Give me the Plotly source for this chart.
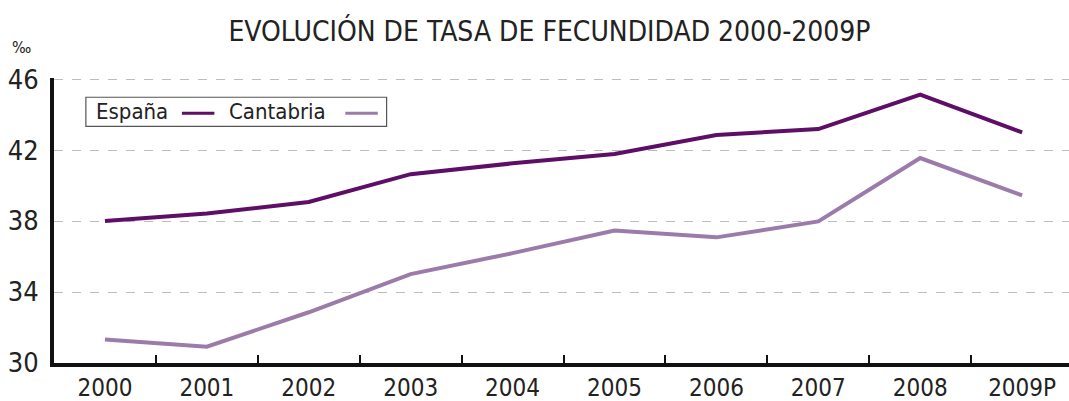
import plotly.graph_objects as go

years = ["2000", "2001", "2002", "2003", "2004", "2005", "2006", "2007", "2008", "2009P"]
espana = [38.0, 38.42, 39.07, 40.64, 41.25, 41.78, 42.85, 43.18, 45.12, 42.99]
cantabria = [31.33, 30.92, 32.86, 35.01, 36.19, 37.46, 37.08, 37.98, 41.55, 39.44]
y_ticks = [30, 34, 38, 42, 46]

COL_ES = "#5E0E66"
COL_CA = "#9B7BAA"
FONT = "DejaVu Sans Condensed, DejaVu Sans, sans-serif"
TXT = "#222222"

fig = go.Figure()
fig.add_trace(go.Scatter(x=years, y=espana, mode="lines", name="España",
                         line=dict(color=COL_ES, width=4)))
fig.add_trace(go.Scatter(x=years, y=cantabria, mode="lines", name="Cantabria",
                         line=dict(color=COL_CA, width=4)))

fig.update_layout(
    width=1069, height=401,
    margin=dict(l=54, r=0, t=78, b=38, autoexpand=False),
    paper_bgcolor="white", plot_bgcolor="white",
    showlegend=False,
    font=dict(family=FONT, color=TXT),
    title=dict(text="EVOLUCIÓN DE TASA DE FECUNDIDAD 2000-2009P",
               x=0.514, xanchor="center", xref="container",
               y=0.922, yanchor="middle", yref="container",
               font=dict(size=28, family=FONT, color=TXT)),
    xaxis=dict(type="category", range=[-0.5, 9.46], automargin=False,
               showline=True, linecolor="#111111", linewidth=4,
               ticks="inside", tickson="boundaries", ticklen=8, tickwidth=2, tickcolor="#111111",
               showgrid=False, tickfont=dict(size=24, family=FONT, color=TXT)),
    yaxis=dict(range=[30, 46.06], tickvals=y_ticks, automargin=False,
               showline=True, linecolor="#111111", linewidth=4,
               showgrid=True, gridcolor="#BDBDBD", griddash="dash", gridwidth=1,
               zeroline=False, ticks="", ticklen=0, ticklabelstandoff=6,
               tickfont=dict(size=27, family=FONT, color=TXT)),
)

# per-mille unit label
fig.add_annotation(text="‰", xref="paper", yref="paper", x=-0.032, y=1.065,
                   xanchor="center", yanchor="bottom", showarrow=False,
                   font=dict(size=16, family=FONT, color=TXT))

# custom legend box (text then line swatch)
fig.add_shape(type="rect", xref="paper", yref="paper",
              x0=0.0314, x1=0.3277, y0=0.830, y1=0.9325,
              line=dict(color="#555555", width=1.2), fillcolor="white", layer="above")
fig.add_annotation(text="España", xref="paper", yref="paper", x=0.039, y=0.881,
                   xanchor="left", yanchor="middle", showarrow=False,
                   font=dict(size=22, family=FONT, color=TXT))
fig.add_shape(type="line", xref="paper", yref="paper", x0=0.126, x1=0.158,
              y0=0.876, y1=0.876, line=dict(color=COL_ES, width=3), layer="above")
fig.add_annotation(text="Cantabria", xref="paper", yref="paper", x=0.170, y=0.881,
                   xanchor="left", yanchor="middle", showarrow=False,
                   font=dict(size=22, family=FONT, color=TXT))
fig.add_shape(type="line", xref="paper", yref="paper", x0=0.287, x1=0.319,
              y0=0.876, y1=0.876, line=dict(color=COL_CA, width=3), layer="above")

fig.write_html("out.html", config={"displayModeBar": False},
               post_script="document.body.style.margin='0';document.body.style.overflow='hidden';")
